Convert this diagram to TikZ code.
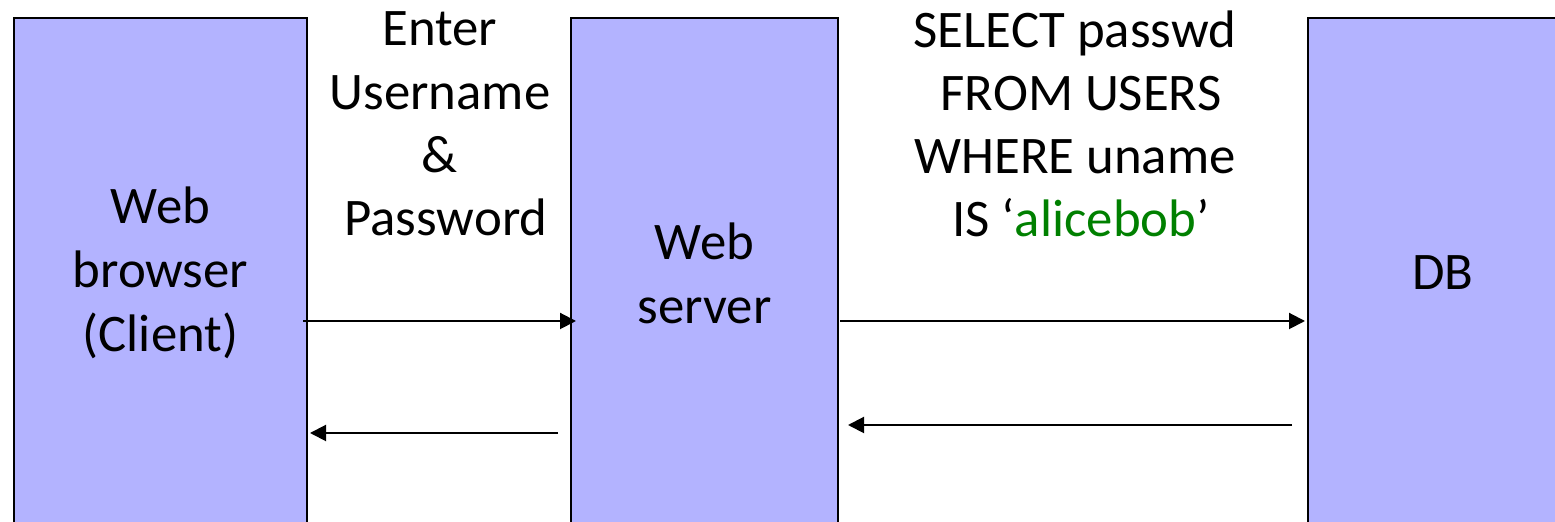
\documentclass[tikz,border=0pt]{standalone}
\usepackage{fontspec}
\setmainfont{Carlito}
\usepackage{xcolor}
\usetikzlibrary{positioning, arrows.meta}
\definecolor{tierblue}{HTML}{B3B3FF}
\definecolor{sqlgreen}{HTML}{008000}

\tikzset{
	tier/.style={rectangle, draw, fill=tierblue, line width=1pt, outer sep=0, minimum height=255pt, align=center, font=\fontsize{26.4}{32}\selectfont},
	msg/.style={align=center, inner sep=0, font=\fontsize{26.4}{31.6}\selectfont},
	call/.style={-{Triangle[length=8pt,width=8pt]}, line width=1pt},
}

\begin{document}
\begin{tikzpicture}[x=0.5pt,y=-0.5pt]
		\useasboundingbox (0,0) rectangle (1555,522);
		\clip (0,0) rectangle (1555,522);
		
		\node[tier, minimum width=146.5pt, anchor=north west] (client) at (14,18) {Web\\browser\\(Client)};
		\node[tier, minimum width=133.5pt, right = 132pt of client] (server) {Web\\server};
		\node[tier, minimum width=135pt, right = 235pt of server] (db) {DB};
		
		\node[msg] (login) at (440,124) {Enter\\Username\\\&\\~Password};
		\node[msg] (query) at (1075,124) {SELECT passwd\\~FROM USERS\\WHERE uname\\~IS ‘\textcolor{sqlgreen}{alicebob}’};
		
		%les fleches
		\draw[call] ([yshift=-24pt,xshift=-2pt]client.east) -- ([yshift=-24pt,xshift=2.5pt]server.west);
		\draw[call] ([yshift=-80pt,xshift=-6.5pt]server.west) -- ([yshift=-80pt,xshift=1.5pt]client.east);
		\draw[call] ([yshift=-24pt,xshift=1pt]server.east) -- ([yshift=-24pt,xshift=-1.5pt]db.west);
		\draw[call] ([yshift=-76pt,xshift=-8pt]db.west) -- ([yshift=-76pt,xshift=5pt]server.east);
	\end{tikzpicture}
\end{document}
